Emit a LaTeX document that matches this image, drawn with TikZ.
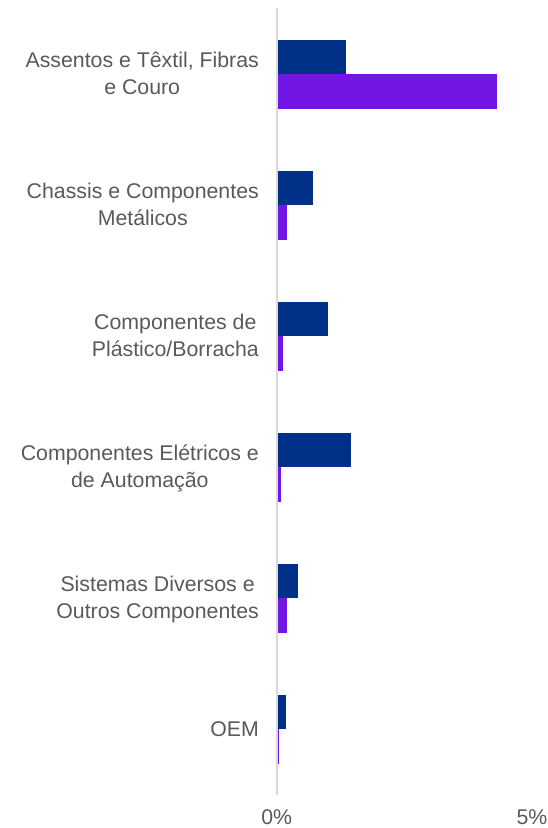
\documentclass[tikz,border=0pt]{standalone}
\usepackage{fontspec}
\setmainfont{Liberation Sans}
\definecolor{barblue}{HTML}{003087}
\definecolor{barpurple}{HTML}{7216E6}
\definecolor{axisgray}{HTML}{D9D9D9}
\definecolor{labelgray}{HTML}{595959}
\tikzset{
  bluebar/.style={fill=barblue, draw=none},
  purplebar/.style={fill=barpurple, draw=none},
  catlabel/.style={align=center, anchor=base east, inner sep=0pt, text=labelgray,
    font=\fontsize{21.3bp}{26.3bp}\selectfont},
  ticklabel/.style={anchor=base, inner sep=0pt, text=labelgray,
    font=\fontsize{21.3bp}{26.3bp}\selectfont},
}
\begin{document}
\begin{tikzpicture}[x=1bp,y=-1bp]
\useasboundingbox (0,0) rectangle (548,828);
% bars: left edge 277, 51 px per percent
\foreach \i/\b/\p in {0/345.7/496.7, 1/313.3/287, 2/327.7/282.7, 3/351.3/280.7, 4/298/287, 5/285.7/278.7}{
  \pgfmathsetmacro{\c}{74.3+131*\i}
  \fill[bluebar] (277,\c-34.3) rectangle (\b,\c);
  \fill[purplebar] (277,\c) rectangle (\p,\c+34.4);
}
% axis
\coordinate (axtop) at (276.8,8);
\coordinate (axbot) at (276.8,795);
\draw[axisgray, line width=2bp] (axtop) -- (axbot);
% category labels (base anchor = baseline of last line)
\node[catlabel] (l1) at (259,94) {Assentos e Têxtil, Fibras\\e Couro};
\node[catlabel] (l2) at (259,225) {Chassis e Componentes\\Metálicos};
\node[catlabel] (l3) at (259,356) {Componentes de\\Plástico/Borracha};
\node[catlabel] (l4) at (259,487) {Componentes Elétricos e\\de Automação};
\node[catlabel] (l5) at (259,618) {Sistemas Diversos e\\Outros Componentes};
\node[catlabel] (l6) at (259,736.8) {OEM};
% tick labels
\node[ticklabel] (t0) at (276.7,824.5) {0\%};
\node[ticklabel] (t5) at (532,824.5) {5\%};
\end{tikzpicture}
\end{document}
